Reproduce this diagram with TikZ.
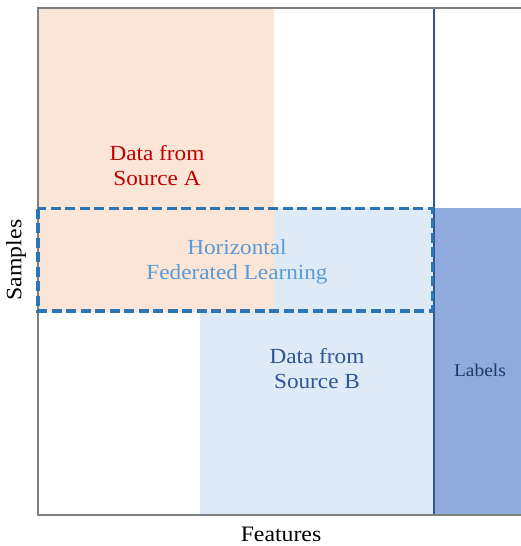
\documentclass[tikz,border=0pt]{standalone}
\usepackage{fontspec}
\setmainfont{Liberation Serif}[FakeStretch=1.08]
\definecolor{orfill}{HTML}{FBE5D6}
\definecolor{lbfill}{HTML}{DEEBF7}
\definecolor{labfill}{HTML}{8FAADC}
\definecolor{bline}{HTML}{2F5597}
\definecolor{dashc}{HTML}{2E75B6}
\definecolor{framec}{HTML}{7F7F7F}
\definecolor{redt}{HTML}{C00000}
\definecolor{hflt}{HTML}{5B9BD5}
\definecolor{labt}{HTML}{203864}
\begin{document}
\begin{tikzpicture}[x=1pt,y=-1pt,
  lbl/.style={align=center,font=\fontsize{21.5}{25}\selectfont,inner sep=0pt},
  axis/.style={font=\fontsize{22}{25}\selectfont,inner sep=0pt}]
\useasboundingbox (0,0) rectangle (521,546);
% regions
\fill[lbfill] (200,208) rectangle (434,515);
\fill[orfill] (38,8) rectangle (274,312);
\fill[labfill] (434,208) rectangle (521,515);
% frame
\draw[framec,line width=2.8pt] (521,8) -- (38,8) -- (38,515) -- (521,515);
\draw[bline,line width=2.6pt] (434,9) -- (434,514);
% dashed box
\draw[dashc,line width=3.6pt,dash pattern=on 10pt off 4.5pt] (38,208.5) rectangle (432.5,311);
% texts
\node[lbl,text=redt] (srcA) at (157,166) {Data from\\Source A};
\node[lbl,text=hflt] (hfl) at (237,262) {Horizontal\\Federated Learning};
\node[lbl,text=bline] (srcB) at (317,369) {Data from\\Source B};
\node[inner sep=0pt,text=labt,font=\fontsize{18}{20}\selectfont] (lab) at (480,370) {Labels};
\node[axis,rotate=90] (samp) at (16,260) {Samples};
\node[axis] (feat) at (281,534) {Features};
\end{tikzpicture}
\end{document}
